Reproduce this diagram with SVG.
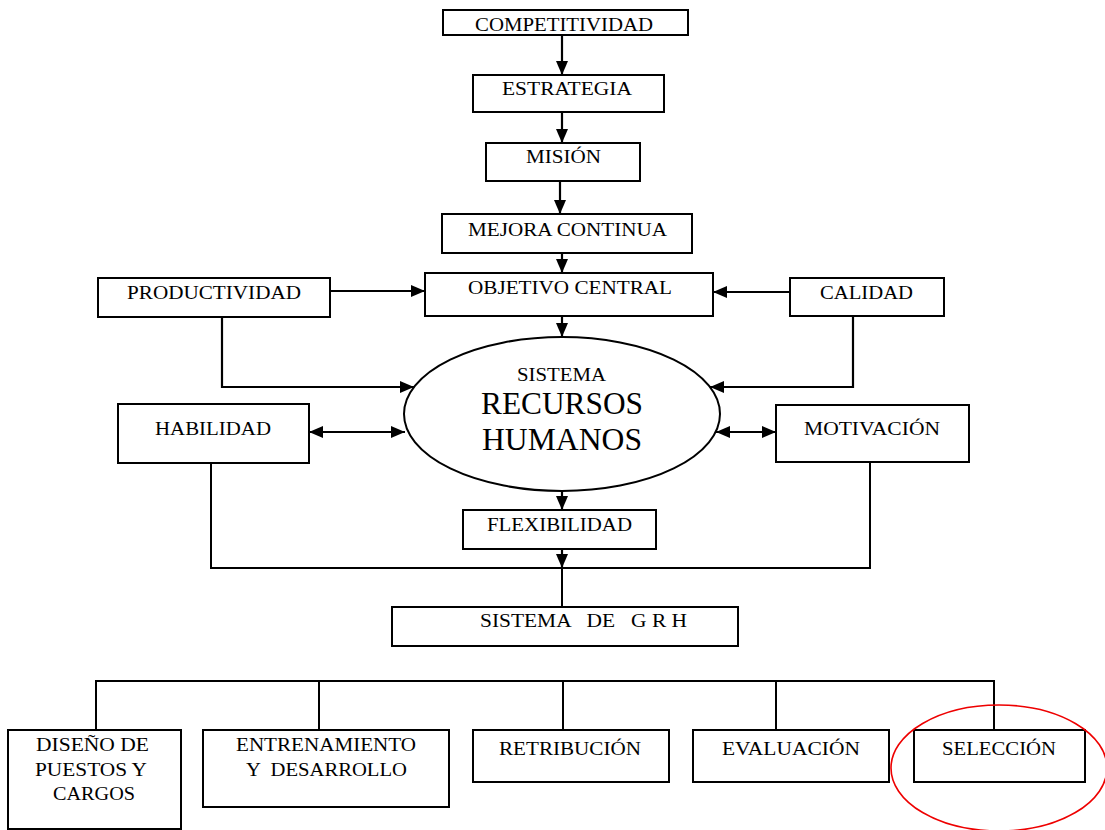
<svg xmlns="http://www.w3.org/2000/svg" width="1105" height="830" viewBox="0 0 1105 830">
<style>
.box{fill:#fff;stroke:#000;stroke-width:2}
.t{font-family:"Liberation Serif","Times New Roman",serif;font-size:19px;fill:#000;white-space:pre}
.big{font-size:31px}
.ln{fill:none;stroke:#000;stroke-width:2}
.ar{fill:none;stroke:#000;stroke-width:2.2;marker-end:url(#ah)}
.dbl{fill:none;stroke:#000;stroke-width:2.2;marker-end:url(#ah);marker-start:url(#ah)}
</style>
<defs>
<marker id="ah" markerUnits="userSpaceOnUse" markerWidth="16" markerHeight="14" refX="14" refY="6" orient="auto-start-reverse">
<path d="M0,0 L14,6 L0,12 z" fill="#000"/>
</marker>
</defs>
<rect width="1105" height="830" fill="#fff"/>
<g id="connectors">
<path class="ar" d="M562,35 V75"/>
<path class="ar" d="M562,112 V143"/>
<path class="ar" d="M560,181 V214"/>
<path class="ar" d="M562,253 V273"/>
<path class="ar" d="M562,316 V337"/>
<path class="ar" d="M330,291 H425"/>
<path class="ar" d="M790,292 H713"/>
<path class="ar" d="M222,317 V387 H414"/>
<path class="ar" d="M853,316 V387 H710"/>
<path class="dbl" d="M309,432 H405"/>
<path class="dbl" d="M716,432 H776"/>
<path class="ar" d="M562,491 V510"/>
<path class="ar" d="M562,549 V568"/>
<path class="ln" d="M211,463 V568 H870 V462"/>
<path class="ln" d="M562,568 V607"/>
<path class="ln" d="M96,730 V681 H994 V730"/>
<path class="ln" d="M319,681 V730 M563,681 V730 M776,681 V730"/>
</g>
<g id="n-competitividad"><rect class="box" x="443" y="10" width="245" height="25"/><text class="t" x="475" y="31" textLength="178" lengthAdjust="spacingAndGlyphs">COMPETITIVIDAD</text></g>
<g id="n-estrategia"><rect class="box" x="473" y="75" width="191" height="37"/><text class="t" x="502" y="95" textLength="130" lengthAdjust="spacingAndGlyphs">ESTRATEGIA</text></g>
<g id="n-mision"><rect class="box" x="486" y="143" width="154" height="38"/><text class="t" x="526" y="163" textLength="75" lengthAdjust="spacingAndGlyphs">MISIÓN</text></g>
<g id="n-mejora"><rect class="box" x="442" y="214" width="250" height="39"/><text class="t" x="468" y="236" textLength="199" lengthAdjust="spacingAndGlyphs">MEJORA CONTINUA</text></g>
<g id="n-objetivo"><rect class="box" x="425" y="273" width="288" height="43"/><text class="t" x="468" y="294" textLength="204" lengthAdjust="spacingAndGlyphs">OBJETIVO CENTRAL</text></g>
<g id="n-productividad"><rect class="box" x="98" y="278" width="232" height="39"/><text class="t" x="127" y="299" textLength="174" lengthAdjust="spacingAndGlyphs">PRODUCTIVIDAD</text></g>
<g id="n-calidad"><rect class="box" x="790" y="278" width="154" height="38"/><text class="t" x="820" y="299" textLength="93" lengthAdjust="spacingAndGlyphs">CALIDAD</text></g>
<g id="n-sistema-rh"><ellipse cx="562" cy="414" rx="158" ry="77" fill="#fff" stroke="#000" stroke-width="2"/><text class="t" x="517" y="381" textLength="89" lengthAdjust="spacingAndGlyphs">SISTEMA</text><text class="t big" x="481" y="414" textLength="162" lengthAdjust="spacingAndGlyphs">RECURSOS</text><text class="t big" x="482" y="450" textLength="160" lengthAdjust="spacingAndGlyphs">HUMANOS</text></g>
<g id="n-habilidad"><rect class="box" x="118" y="404" width="191" height="59"/><text class="t" x="155" y="435" textLength="116" lengthAdjust="spacingAndGlyphs">HABILIDAD</text></g>
<g id="n-motivacion"><rect class="box" x="776" y="405" width="193" height="57"/><text class="t" x="804" y="435" textLength="136" lengthAdjust="spacingAndGlyphs">MOTIVACIÓN</text></g>
<g id="n-flexibilidad"><rect class="box" x="463" y="510" width="193" height="39"/><text class="t" x="487" y="531" textLength="145" lengthAdjust="spacingAndGlyphs">FLEXIBILIDAD</text></g>
<g id="n-grh"><rect class="box" x="392" y="607" width="346" height="39"/><text class="t" x="480" y="627" textLength="207" lengthAdjust="spacingAndGlyphs">SISTEMA   DE   G R H</text></g>
<g id="n-diseno"><rect class="box" x="8" y="730" width="173" height="99"/><text class="t" x="36" y="751" textLength="113" lengthAdjust="spacingAndGlyphs">DISEÑO DE</text><text class="t" x="35" y="776" textLength="112" lengthAdjust="spacingAndGlyphs">PUESTOS Y</text><text class="t" x="53" y="800" textLength="82" lengthAdjust="spacingAndGlyphs">CARGOS</text></g>
<g id="n-entrenamiento"><rect class="box" x="203" y="730" width="246" height="77"/><text class="t" x="236" y="751" textLength="180" lengthAdjust="spacingAndGlyphs">ENTRENAMIENTO</text><text class="t" x="246" y="776" textLength="161" lengthAdjust="spacingAndGlyphs">Y  DESARROLLO</text></g>
<g id="n-retribucion"><rect class="box" x="473" y="730" width="196" height="52"/><text class="t" x="499" y="755" textLength="142" lengthAdjust="spacingAndGlyphs">RETRIBUCIÓN</text></g>
<g id="n-evaluacion"><rect class="box" x="693" y="730" width="196" height="52"/><text class="t" x="722" y="755" textLength="138" lengthAdjust="spacingAndGlyphs">EVALUACIÓN</text></g>
<g id="n-seleccion"><rect class="box" x="914" y="730" width="171" height="52"/><text class="t" x="942" y="755" textLength="114" lengthAdjust="spacingAndGlyphs">SELECCIÓN</text></g>
<ellipse id="highlight" cx="999" cy="768" rx="108" ry="63" fill="none" stroke="#e00" stroke-width="1.6"/>
</svg>
